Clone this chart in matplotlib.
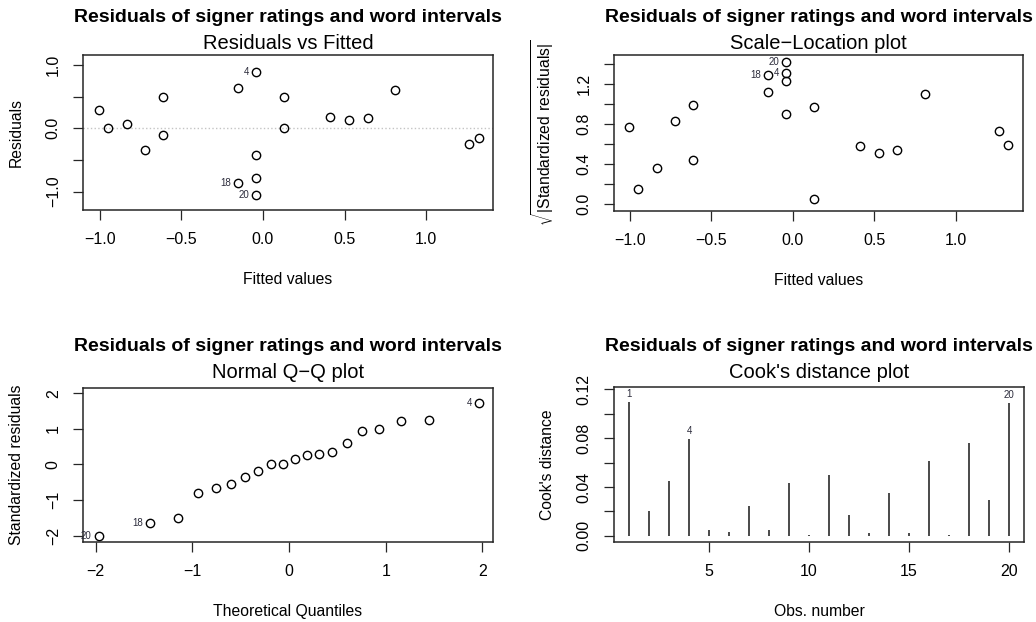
import matplotlib
matplotlib.use("Agg")
import matplotlib.pyplot as plt

plt.rcParams['font.family'] = ['Liberation Sans', 'DejaVu Sans']
plt.rcParams['mathtext.fontset'] = 'custom'
plt.rcParams['mathtext.rm'] = 'Liberation Sans'
plt.rcParams['axes.unicode_minus'] = True

main_title = "Residuals of signer ratings and word intervals"

# Residuals vs Fitted / Scale-Location (same observations, same order)
fitted = [-1.006, -0.953, -0.836, -0.724, -0.611, -0.611, -0.155, -0.155, -0.043, -0.043,
          -0.043, -0.043, 0.129, 0.129, 0.411, 0.528, 0.642, 0.812, 1.266, 1.323]
resid = [0.29, 0.01, 0.074, -0.342, 0.50, -0.10, 0.642, -0.858, 0.895, -0.416,
         -0.784, -1.047, 0.49, 0.005, 0.179, 0.137, 0.158, 0.61, -0.253, -0.158]
sqrt_std_resid = [0.767, 0.147, 0.363, 0.827, 0.993, 0.44, 1.117, 1.287, 1.313, 0.897,
                  1.233, 1.42, 0.97, 0.053, 0.583, 0.507, 0.543, 1.103, 0.733, 0.587]
fit_ids = {'18': 7, '4': 8, '20': 11}

# Normal Q-Q
theo_q = [-1.97, -1.438, -1.152, -0.938, -0.755, -0.603, -0.455, -0.324, -0.19, -0.066,
          0.062, 0.19, 0.314, 0.448, 0.597, 0.759, 0.931, 1.155, 1.448, 1.966]
std_resid_sorted = [-2.0, -1.635, -1.494, -0.792, -0.67, -0.539, -0.342, -0.173, 0.005, 0.023,
                    0.145, 0.267, 0.295, 0.36, 0.604, 0.951, 0.988, 1.232, 1.26, 1.719]
qq_ids = {'20': 0, '18': 1, '4': 19}

# Cook's distance
obs = list(range(1, 21))
cooks = [0.110, 0.0202, 0.0451, 0.0793, 0.0044, 0.003, 0.0246, 0.0046, 0.0435, 0.0003,
         0.0495, 0.0172, 0.0022, 0.0347, 0.0019, 0.0612, 0.0005, 0.0763, 0.0293, 0.109]
cook_ids = ['1', '4', '20']

fig = plt.figure(figsize=(10.36, 6.22), dpi=100)

ax1 = fig.add_axes([0.0801, 0.6624, 0.3958, 0.2492])
ax2 = fig.add_axes([0.5927, 0.6613, 0.3948, 0.2503])
ax3 = fig.add_axes([0.0801, 0.1291, 0.3958, 0.2471])
ax4 = fig.add_axes([0.5927, 0.1291, 0.3958, 0.2482])

lab_col = '#2b2b3b'
tick_fs = 11.5
label_fs = 11.3


def r_style(ax, sub, title_off=23.5, sub_off=4.5):
    for s in ax.spines.values():
        s.set_linewidth(1.1)
        s.set_color('#262626')
    ax.tick_params(direction='out', length=7, width=0.9, labelsize=tick_fs, pad=9,
                   color='#262626')
    for lbl in ax.get_yticklabels():
        lbl.set_rotation(90)
        lbl.set_va('center')
    ax.annotate(sub, xy=(0.5, 1), xycoords='axes fraction', xytext=(0, sub_off),
                textcoords='offset points', ha='center', va='baseline', fontsize=14.5)
    ax.annotate(main_title, xy=(0.5, 1), xycoords='axes fraction', xytext=(0, title_off),
                textcoords='offset points', ha='center', va='baseline', fontsize=14,
                fontweight='bold')


def circles(ax, x, y):
    ax.plot(x, y, 'o', ms=6, mfc='none', mec='black', mew=1.0, ls='none')


def left_ids(ax, x, y, ids):
    for name, i in ids.items():
        ax.annotate(name, (x[i], y[i]), xytext=(-5, 0), textcoords='offset points',
                    ha='right', va='center', fontsize=7, color=lab_col)


# Residuals vs Fitted
ax1.axhline(0, color='#c4c4c4', ls=':', lw=1)
circles(ax1, fitted, resid)
left_ids(ax1, fitted, resid, fit_ids)
ax1.set_xlim(-1.104, 1.411)
ax1.set_ylim(-1.29, 1.158)
ax1.set_xticks([-1.0, -0.5, 0.0, 0.5, 1.0])
ax1.set_xticklabels(['\u22121.0', '\u22120.5', '0.0', '0.5', '1.0'])
ax1.set_yticks([-1.0, -0.5, 0.0, 0.5, 1.0])
ax1.set_yticklabels(['\u22121.0', '', '0.0', '', '1.0'])
ax1.set_xlabel('Fitted values', fontsize=label_fs, labelpad=18)
ax1.set_ylabel('Residuals', fontsize=label_fs, labelpad=16)
r_style(ax1, 'Residuals vs Fitted')

# Scale-Location
circles(ax2, fitted, sqrt_std_resid)
left_ids(ax2, fitted, sqrt_std_resid, fit_ids)
ax2.set_xlim(-1.098, 1.414)
ax2.set_ylim(-0.067, 1.49)
ax2.set_xticks([-1.0, -0.5, 0.0, 0.5, 1.0])
ax2.set_xticklabels(['\u22121.0', '\u22120.5', '0.0', '0.5', '1.0'])
ax2.set_yticks([0.0, 0.2, 0.4, 0.6, 0.8, 1.0, 1.2, 1.4])
ax2.set_yticklabels(['0.0', '', '0.4', '', '0.8', '', '1.2', ''])
ax2.set_xlabel('Fitted values', fontsize=label_fs, labelpad=18)
ax2.set_ylabel(r'$\sqrt{|\mathrm{Standardized\ residuals}|}$', fontsize=label_fs, labelpad=14)
r_style(ax2, 'Scale\u2212Location plot')

# Normal Q-Q
circles(ax3, theo_q, std_resid_sorted)
left_ids(ax3, theo_q, std_resid_sorted, qq_ids)
ax3.set_xlim(-2.131, 2.11)
ax3.set_ylim(-2.17, 2.15)
ax3.set_xticks([-2, -1, 0, 1, 2])
ax3.set_yticks([-2, -1, 0, 1, 2])
ax3.set_xlabel('Theoretical Quantiles', fontsize=label_fs, labelpad=18)
ax3.set_ylabel('Standardized residuals', fontsize=label_fs, labelpad=16)
r_style(ax3, 'Normal Q\u2212Q plot', title_off=26.5, sub_off=7)

# Cook's distance
ax4.vlines(obs, 0, cooks, color='#3a3a3a', lw=1.3)
for name in cook_ids:
    i = int(name) - 1
    ax4.annotate(name, (obs[i], cooks[i]), xytext=(0, 2), textcoords='offset points',
                 ha='center', va='bottom', fontsize=7, color=lab_col)
ax4.set_xlim(0.24, 20.76)
ax4.set_ylim(-0.0049, 0.1217)
ax4.set_xticks([5, 10, 15, 20])
ax4.set_yticks([0.0, 0.02, 0.04, 0.06, 0.08, 0.10, 0.12])
ax4.set_yticklabels(['0.00', '', '0.04', '', '0.08', '', '0.12'])
ax4.set_xlabel('Obs. number', fontsize=label_fs, labelpad=18)
ax4.set_ylabel("Cook's distance", fontsize=label_fs, labelpad=16)
r_style(ax4, "Cook's distance plot", title_off=26.5, sub_off=7)

fig.savefig('out.png', dpi=100)
